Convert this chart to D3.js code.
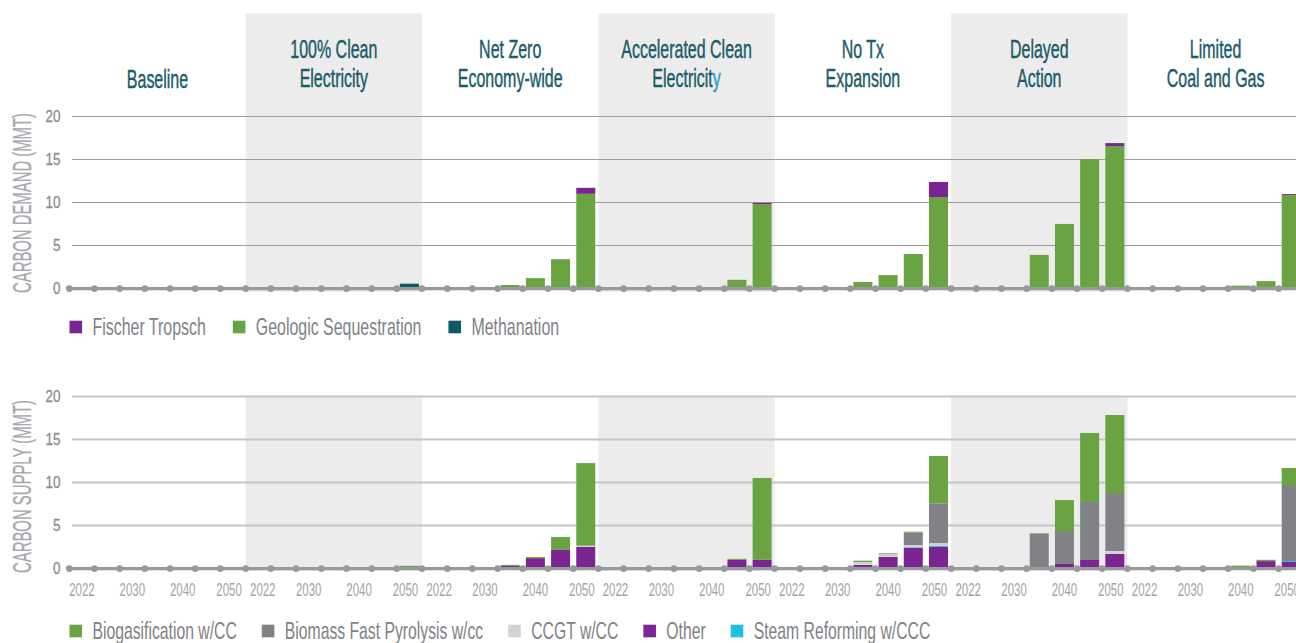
<!DOCTYPE html>
<html>
<head>
<meta charset="utf-8">
<script src="https://cdn.jsdelivr.net/npm/d3@7"></script>
<style>
  html, body { margin: 0; padding: 0; background: #fff; overflow: hidden; }
  svg { display: block; }
</style>
</head>
<body>
<svg id="chart" width="1296" height="643"></svg>
<script>
// ---- data ----------------------------------------------------------------
const scenarios = ["Baseline", "100% Clean Electricity", "Net Zero Economy-wide",
  "Accelerated Clean Electricity", "No Tx Expansion", "Delayed Action", "Limited Coal and Gas"];
const scenarioHeaders = [["Baseline"], ["100% Clean", "Electricity"], ["Net Zero", "Economy-wide"],
  ["Accelerated Clean", "Electricity"], ["No Tx", "Expansion"], ["Delayed", "Action"], ["Limited", "Coal and Gas"]];
const years = ["2022", "2025", "2030", "2035", "2040", "2045", "2050"];
const yearLabels = ["2022", "2030", "2040", "2050"];
const yTicks = [0, 5, 10, 15, 20];

// carbon demand (MMT), one row of years per scenario
const demandMethanation = [
  [0, 0, 0, 0, 0, 0, 0], [0, 0, 0, 0, 0, 0, 0.5], [0, 0, 0, 0, 0, 0, 0], [0, 0, 0, 0, 0, 0, 0],
  [0, 0, 0, 0, 0, 0, 0.08], [0, 0, 0, 0, 0, 0, 0], [0, 0, 0, 0, 0, 0, 0]];
const demandGeologic = [
  [0, 0, 0, 0, 0, 0, 0], [0, 0, 0, 0, 0, 0, 0], [0, 0, 0, 0.35, 1.15, 3.35, 10.95], [0, 0, 0, 0, 0, 0.95, 9.75],
  [0, 0, 0, 0.7, 1.5, 3.95, 10.5], [0, 0, 0, 3.85, 7.45, 15.0, 16.5], [0, 0, 0, 0, 0.27, 0.8, 10.8]];
const demandFischer = [
  [0, 0, 0, 0, 0, 0, 0], [0, 0, 0, 0, 0, 0, 0], [0, 0, 0, 0, 0, 0, 0.7], [0, 0, 0, 0, 0, 0, 0.15],
  [0, 0, 0, 0, 0, 0, 1.75], [0, 0, 0, 0, 0, 0, 0.35], [0, 0, 0, 0, 0, 0, 0.12]];

// carbon supply (MMT)
const supplyOther = [
  [0, 0, 0, 0, 0, 0, 0], [0, 0, 0, 0, 0, 0, 0], [0, 0, 0, 0.25, 1.15, 2.1, 2.45], [0, 0, 0, 0, 0, 0.95, 0.95],
  [0, 0, 0, 0.35, 1.3, 2.36, 2.45], [0, 0, 0, 0, 0.47, 0.93, 1.63], [0, 0, 0, 0, 0, 0.8, 0.7]];
const supplySteam = [
  [0, 0, 0, 0, 0, 0, 0], [0, 0, 0, 0, 0, 0, 0], [0, 0, 0, 0, 0, 0, 0], [0, 0, 0, 0, 0, 0, 0],
  [0, 0, 0, 0, 0, 0.05, 0.15], [0, 0, 0, 0, 0, 0, 0], [0, 0, 0, 0, 0, 0, 0.11]];
const supplyCCGT = [
  [0, 0, 0, 0, 0, 0, 0], [0, 0, 0, 0, 0, 0, 0], [0, 0, 0, 0, 0, 0, 0.15], [0, 0, 0, 0, 0, 0, 0],
  [0, 0, 0, 0.35, 0.3, 0.26, 0.3], [0, 0, 0, 0, 0, 0, 0.35], [0, 0, 0, 0, 0, 0, 0]];
const supplyBiomass = [
  [0, 0, 0, 0, 0, 0, 0], [0, 0, 0, 0, 0, 0, 0], [0, 0, 0, 0, 0, 0, 0], [0, 0, 0, 0, 0, 0, 0],
  [0, 0, 0, 0, 0, 1.43, 4.62], [0, 0, 0, 4.0, 3.83, 6.74, 6.74], [0, 0, 0, 0, 0, 0, 8.84]];
const supplyBiogas = [
  [0, 0, 0, 0, 0, 0, 0], [0, 0, 0, 0, 0, 0, 0.25], [0, 0, 0, 0.12, 0.12, 1.5, 9.6], [0, 0, 0, 0, 0, 0.12, 9.52],
  [0, 0, 0, 0.15, 0.1, 0.12, 5.5], [0, 0, 0, 0.05, 3.6, 8.03, 9.07], [0, 0, 0, 0, 0.27, 0.15, 1.98]];

// series listed bottom-to-top in the stack, plus legend order
const demandSeries = [
  { name: "Methanation", color: "#0e5a67", values: demandMethanation },
  { name: "Geologic Sequestration", color: "#6aa442", values: demandGeologic },
  { name: "Fischer Tropsch", color: "#7a2591", values: demandFischer }];
const demandLegend = ["Fischer Tropsch", "Geologic Sequestration", "Methanation"];

const supplySeries = [
  { name: "Other", color: "#7a2591", values: supplyOther },
  { name: "Steam Reforming w/CCC", color: "#22bedd", values: supplySteam },
  { name: "CCGT w/CC", color: "#d3d3d5", values: supplyCCGT },
  { name: "Biomass Fast Pyrolysis w/cc", color: "#818285", values: supplyBiomass },
  { name: "Biogasification w/CC", color: "#6aa442", values: supplyBiogas }];
const supplyLegend = ["Biogasification w/CC", "Biomass Fast Pyrolysis w/cc", "CCGT w/CC", "Other", "Steam Reforming w/CCC"];

// ---- font setup ----------------------------------------------------------
function hasFont(name) {
  const c = document.createElement("canvas").getContext("2d");
  c.font = "20px monospace";
  const base = c.measureText("Accelerated Clean 2022").width;
  c.font = `20px '${name}', monospace`;
  return c.measureText("Accelerated Clean 2022").width !== base;
}
const narrowOK = hasFont("Liberation Sans Narrow");
const FONT = narrowOK ? "'Liberation Sans Narrow', sans-serif" : "'Liberation Sans', Arial, sans-serif";
const NARROW = narrowOK ? 1 : 0.82;

function label(sel, x, y, str, o) {
  const sx = (o.sx == null ? 1 : o.sx) * NARROW;
  return sel.append("text")
    .attr("transform", `translate(${x},${y}) scale(${sx},1)`)
    .attr("font-family", FONT)
    .attr("font-size", o.size)
    .attr("fill", o.color)
    .attr("text-anchor", o.anchor || "start")
    .text(str);
}

// ---- layout --------------------------------------------------------------
const svg = d3.select("#chart");
const W = 1296;
const keys = [];
scenarios.forEach((s, si) => years.forEach(yr => keys.push(si + "|" + yr)));

const x = d3.scaleBand().domain(keys).range([69.3, 1303.8]).paddingInner(0.245).paddingOuter(0.1225);
const step = x.step();
const edge = i => x.range()[0] + i * step;          // slot boundary i
const groupSpan = si => [edge(si * 7), edge(si * 7 + 7)];

const panels = [
  { series: demandSeries, legend: demandLegend, y: d3.scaleLinear().domain([0, 20]).range([288, 116]),
    shade: [13.5, 292], title: "CARBON DEMAND (MMT)", titleLen: 180, titleMid: 203,
    grid: "#9c9da0", gridW: 1.2, legendY: 327, legendSx: 0.81, legendGap: 27 },
  { series: supplySeries, legend: supplyLegend, y: d3.scaleLinear().domain([0, 20]).range([568, 396]),
    shade: [396, 571], title: "CARBON SUPPLY (MMT)", titleLen: 173, titleMid: 486.5,
    grid: "#c4c5c7", gridW: 1.8, legendY: 631, legendSx: 0.8, legendGap: 25 }];

// alternating scenario shading
panels.forEach(p => {
  svg.append("g").selectAll("rect").data(scenarios.map((s, i) => i).filter(i => i % 2 === 1))
    .join("rect")
    .attr("x", i => groupSpan(i)[0]).attr("width", i => groupSpan(i)[1] - groupSpan(i)[0])
    .attr("y", p.shade[0]).attr("height", p.shade[1] - p.shade[0])
    .attr("fill", "#ececec");
});

// scenario headers
const headG = svg.append("g");
scenarioHeaders.forEach((lines, si) => {
  const cx = (groupSpan(si)[0] + groupSpan(si)[1]) / 2;
  const ys = lines.length === 1 ? [88.3] : [58.3, 86.7];
  lines.forEach((ln, li) => {
    const t = label(headG, cx, ys[li], "", { size: 25, sx: 0.78, color: "#1d5b6a", anchor: "middle" })
      .attr("stroke", "#1d5b6a").attr("stroke-width", 0.45);
    if (si === 3 && li === 1) {
      t.append("tspan").text(ln.slice(0, -1));
      t.append("tspan").attr("fill", "#2b9fbd").attr("stroke", "#2b9fbd").text(ln.slice(-1));
    } else {
      t.text(ln);
    }
  });
});

panels.forEach(p => {
  const y = p.y;
  const g = svg.append("g");

  // gridlines + value labels
  const ax = d3.axisLeft(y).tickValues(yTicks).tickSize(-(W - 72 + 10)).tickPadding(14).tickFormat(d3.format("d"));
  const axG = g.append("g").attr("transform", "translate(72,0)").call(ax);
  axG.select(".domain").remove();
  axG.selectAll(".tick line").attr("stroke", p.grid).attr("stroke-width", p.gridW)
    .filter(d => d === 0).remove();
  axG.selectAll(".tick text").attr("font-family", FONT).attr("font-size", 16.5)
    .attr("fill", "#8b8c8f").attr("stroke", "#8b8c8f").attr("stroke-width", 0.3)
    .attr("transform", narrowOK ? null : "scale(0.82,1)");

  // stacked bars
  const rows = [];
  scenarios.forEach((s, si) => years.forEach((yr, yi) => {
    const r = { key: si + "|" + yr };
    p.series.forEach(se => { r[se.name] = se.values[si][yi]; });
    rows.push(r);
  }));
  const stack = d3.stack().keys(p.series.map(se => se.name))(rows);
  g.append("g").selectAll("g").data(stack).join("g")
    .attr("fill", (d, i) => p.series[i].color)
    .selectAll("rect").data(d => d.filter(v => v[1] - v[0] > 0)).join("rect")
    .attr("x", d => x(d.data.key)).attr("width", x.bandwidth())
    .attr("y", d => y(d[1])).attr("height", d => y(d[0]) - y(d[1]));

  // category axis: thick line with dots on slot boundaries
  const y0 = y(0) + 0.6;
  g.append("line").attr("x1", edge(0)).attr("x2", W + 10).attr("y1", y0).attr("y2", y0)
    .attr("stroke", "#98999b").attr("stroke-width", 3.3);
  g.append("g").selectAll("circle").data(d3.range(keys.length + 1)).join("circle")
    .attr("cx", i => edge(i)).attr("cy", y0).attr("r", 3.4).attr("fill", "#98999b");

  // axis title
  label(g, 0, 0, p.title, { size: 25, sx: 1, color: "#a7a8ab", anchor: "middle" })
    .attr("transform", `translate(30.5,${p.titleMid}) rotate(-90)`)
    .attr("textLength", p.titleLen).attr("lengthAdjust", "spacingAndGlyphs")
    .attr("stroke", "#a7a8ab").attr("stroke-width", 0.3);

  // legend
  const lg = g.append("g");
  let lx = 69.5;
  p.legend.forEach(name => {
    const se = p.series.find(s => s.name === name);
    lg.append("rect").attr("x", lx).attr("y", p.legendY - 6.3).attr("width", 12.6).attr("height", 12.6).attr("fill", se.color);
    const t = label(lg, lx + 23, p.legendY + 8.3, name, { size: 24, sx: p.legendSx, color: "#818285" });
    const w = t.node().getComputedTextLength() * p.legendSx * NARROW;
    lx += 23 + w + p.legendGap;
  });
});

// year labels under the supply panel
const yl = svg.append("g");
scenarios.forEach((s, si) => {
  years.forEach((yr, yi) => {
    if (!yearLabels.includes(yr)) return;
    let cx = x(si + "|" + yr) + x.bandwidth() / 2;
    if (yr === "2050") cx -= 4;
    if (yr === "2022" && si > 0) cx += 4.5;
    label(yl, cx, 596, yr, { size: 18.6, sx: 0.75, color: "#a2a3a6", anchor: "middle" });
  });
});
</script>
</body>
</html>
